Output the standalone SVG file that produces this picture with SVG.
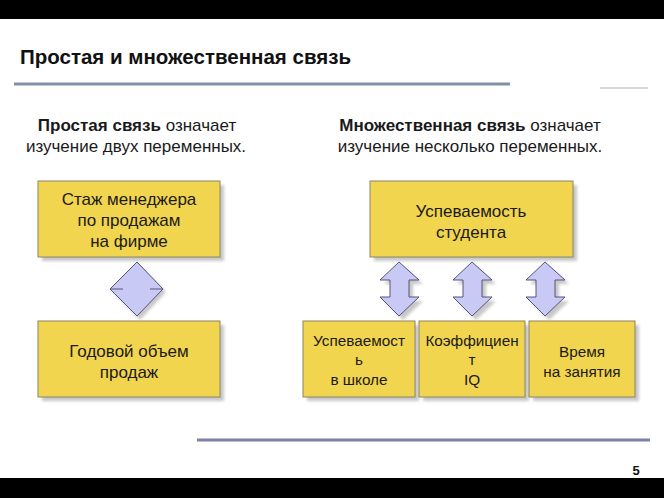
<svg xmlns="http://www.w3.org/2000/svg" width="664" height="498" viewBox="0 0 664 498">
<defs>
<style>
.box{fill:#F2D54E;stroke:#8A8466;stroke-width:1}
.shadow{fill:#9a9a9a;opacity:0.55}
.t{font-family:"Liberation Sans",Arial,sans-serif;font-size:17px;fill:#1a1a1a;text-anchor:middle}
.s{font-family:"Liberation Sans",Arial,sans-serif;font-size:15.3px;fill:#1a1a1a;text-anchor:middle}
.sub{font-family:"Liberation Sans",Arial,sans-serif;font-size:17px;fill:#1a1a1a;text-anchor:middle}
.conn{fill:#C9C9F6;stroke:#55557A;stroke-width:1}
</style>
<filter id="blur" x="-10%" y="-10%" width="130%" height="130%"><feGaussianBlur stdDeviation="1.5"/></filter>
</defs>
<rect x="0" y="0" width="664" height="498" fill="#ffffff"/>
<rect x="0" y="0" width="664" height="19" fill="#000000"/>
<rect x="0" y="478" width="664" height="20" fill="#000000"/>
<text x="20" y="64" font-family="Liberation Sans,Arial,sans-serif" font-size="20.5" font-weight="bold" fill="#111">Простая и множественная связь</text>
<line x1="14" y1="84" x2="510" y2="84" stroke="#8391A6" stroke-width="3"/>
<line x1="600" y1="88" x2="648" y2="88" stroke="#d8d8d8" stroke-width="2"/>
<line x1="197" y1="440" x2="650" y2="440" stroke="#7E80A6" stroke-width="3"/>
<text x="636" y="475" font-family="Liberation Sans,Arial,sans-serif" font-size="13" font-weight="bold" text-anchor="middle" fill="#111">5</text>

<text class="sub" x="137" y="131"><tspan font-weight="bold">Простая связь</tspan> означает</text>
<text class="sub" x="136" y="152">изучение двух переменных.</text>
<text class="sub" x="470" y="131"><tspan font-weight="bold">Множественная связь</tspan> означает</text>
<text class="sub" x="470" y="152">изучение несколько переменных.</text>

<g id="connectors">
<g filter="url(#blur)" class="shadow">
<polygon points="140,266 166,292 140,320 113,292"/>
</g>
<polygon class="conn" points="137,262 163,289 137,316 110,289"/>
<line x1="110" y1="289" x2="123" y2="289" stroke="#55557A" stroke-width="1"/>
<line x1="150" y1="289" x2="163" y2="289" stroke="#55557A" stroke-width="1"/>
<g class="shadow" filter="url(#blur)">
<polygon points="403,266 423,284 413,284 413,301 423,301 403,320 384,301 394,301 394,284 384,284"/>
<polygon points="476,266 496,284 486,284 486,301 496,301 476,320 457,301 467,301 467,284 457,284"/>
<polygon points="549,266 569,284 559,284 559,301 569,301 549,320 530,301 540,301 540,284 530,284"/>
</g>
<polygon class="conn" points="399,262 419,280 409,280 409,297 419,297 399,316 380,297 390,297 390,280 380,280"/>
<polygon class="conn" points="472,262 492,280 482,280 482,297 492,297 472,316 453,297 463,297 463,280 453,280"/>
<polygon class="conn" points="545,262 565,280 555,280 555,297 565,297 545,316 526,297 536,297 536,280 526,280"/>
</g>

<g id="node-stazh">
<rect class="shadow" x="42" y="185" width="182" height="76" filter="url(#blur)"/>
<rect class="box" x="38" y="181" width="182" height="76"/>
<text class="t" x="129" y="205">Стаж менеджера</text>
<text class="t" x="129" y="226">по продажам</text>
<text class="t" x="129" y="247">на фирме</text>
</g>
<g id="node-godovoy">
<rect class="shadow" x="42" y="325" width="182" height="76" filter="url(#blur)"/>
<rect class="box" x="38" y="321" width="182" height="76"/>
<text class="t" x="129" y="357">Годовой объем</text>
<text class="t" x="129" y="378">продаж</text>
</g>
<g id="node-uspevaemost">
<rect class="shadow" x="374" y="185" width="203" height="76" filter="url(#blur)"/>
<rect class="box" x="370" y="181" width="203" height="76"/>
<text class="t" x="471" y="217">Успеваемость</text>
<text class="t" x="471" y="238">студента</text>
</g>
<g id="node-school">
<rect class="shadow" x="307" y="325" width="112" height="76" filter="url(#blur)"/>
<rect class="box" x="303" y="321" width="112" height="76"/>
<text class="s" x="359" y="346">Успеваемост</text>
<text class="s" x="359" y="365">ь</text>
<text class="s" x="359" y="385">в школе</text>
</g>
<g id="node-iq">
<rect class="shadow" x="423" y="325" width="106" height="76" filter="url(#blur)"/>
<rect class="box" x="419" y="321" width="106" height="76"/>
<text class="s" x="472" y="346">Коэффициен</text>
<text class="s" x="472" y="365">т</text>
<text class="s" x="472" y="385">IQ</text>
</g>
<g id="node-time">
<rect class="shadow" x="533" y="325" width="106" height="76" filter="url(#blur)"/>
<rect class="box" x="529" y="321" width="106" height="76"/>
<text class="s" x="582" y="357">Время</text>
<text class="s" x="582" y="377">на занятия</text>
</g>
</svg>
